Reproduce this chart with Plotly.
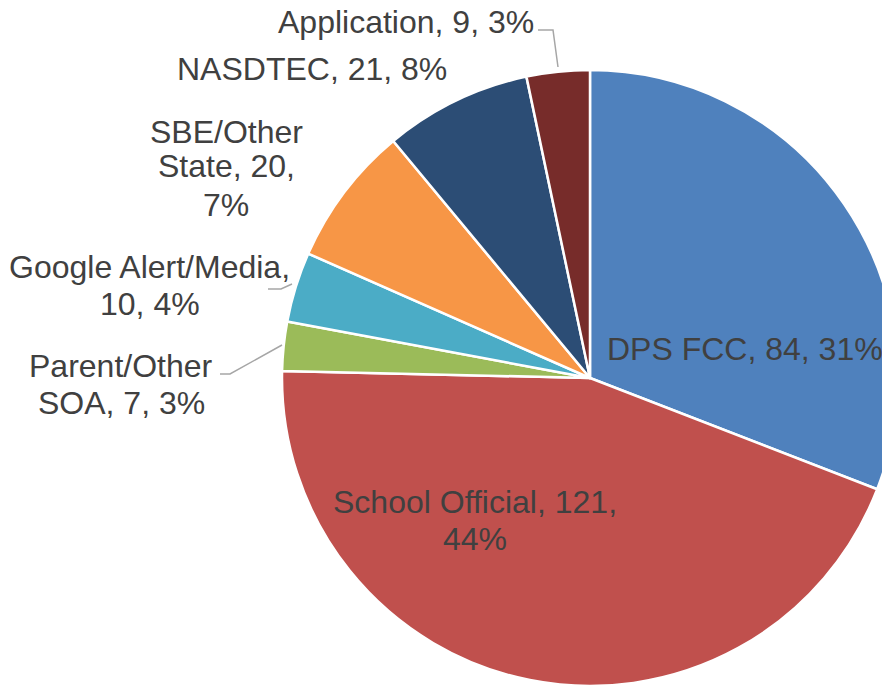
import plotly.graph_objects as go

W, H = 890, 685
OFF = 8  # page body margin offset (screen px -> figure px)

categories = ["DPS FCC", "School Official", "Parent/Other SOA", "Google Alert/Media",
              "SBE/Other State", "NASDTEC", "Application"]
values = [84, 121, 7, 10, 20, 21, 9]
colors = ["#4F81BD", "#C0504D", "#9BBB59", "#4BACC6", "#F79646", "#2C4D75", "#772C2A"]

# label text lines (as displayed) and their screen-pixel anchor (center x, center y)
label_lines = [
    ("DPS FCC, 84, 31%", 745, 349),
    ("School Official, 121,", 475, 502),
    ("44%", 475, 539),
    ("Parent/Other", 121, 366),
    ("SOA, 7, 3%", 121, 403),
    ("Google Alert/Media,", 149, 267),
    ("10, 4%", 150, 304),
    ("SBE/Other", 226, 132),
    ("State, 20,", 226, 166),
    ("7%", 226, 205),
    ("NASDTEC, 21, 8%", 312, 69),
    ("Application, 9, 3%", 406, 22),
]

leader_lines = [
    [(538, 30), (553, 30), (558, 67)],
    [(268, 289), (281, 289), (292, 284)],
    [(220, 374), (230, 374), (282, 345)],
]

# pie placement in screen px: center and radius
CX, CY, R = 590, 378, 308


def px(x):
    return (x - OFF) / W


def py(y):
    return 1 - (y - OFF) / H


fig = go.Figure(go.Pie(
    labels=categories,
    values=values,
    marker=dict(colors=colors, line=dict(color="white", width=2.5)),
    sort=False,
    direction="clockwise",
    rotation=0,
    textinfo="none",
    hoverinfo="label+value+percent",
    domain=dict(x=[max(0, px(CX - R)), min(1, px(CX + R))],
                y=[max(0, py(CY + R)), min(1, py(CY - R))]),
    showlegend=False,
))

annotations = []
for text, x, y in label_lines:
    annotations.append(dict(
        text=text, x=px(x), y=py(y), xref="paper", yref="paper",
        xanchor="center", yanchor="middle", showarrow=False,
        font=dict(family="Liberation Sans, Arial, sans-serif", size=32, color="#404040"),
    ))

shapes = []
for pts in leader_lines:
    path = "M " + " L ".join(f"{px(a):.5f},{py(b):.5f}" for a, b in pts)
    shapes.append(dict(type="path", path=path, xref="paper", yref="paper",
                       line=dict(color="#A6A6A6", width=1.5)))

fig.update_layout(
    width=W, height=H,
    margin=dict(l=0, r=0, t=0, b=0),
    paper_bgcolor="white",
    plot_bgcolor="white",
    annotations=annotations,
    shapes=shapes,
)

fig.write_html("out.html")
